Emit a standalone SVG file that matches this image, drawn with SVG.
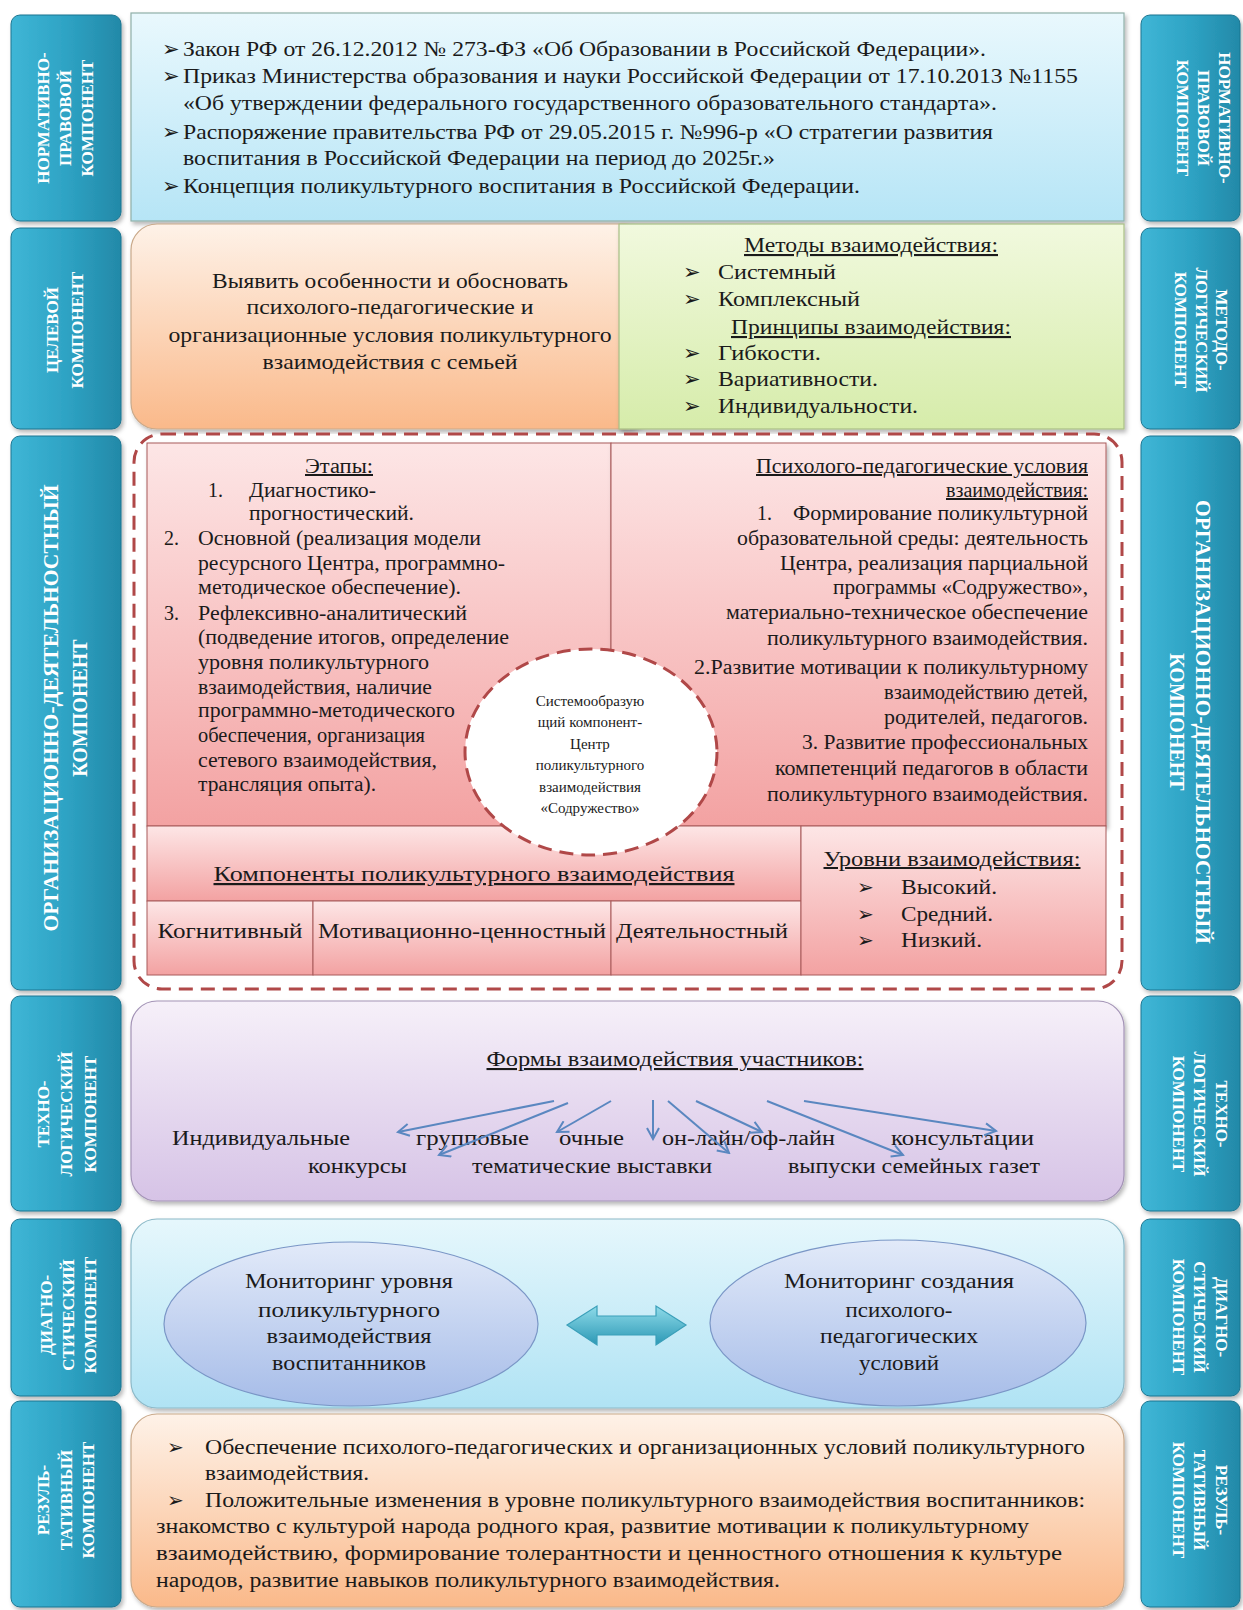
<svg xmlns="http://www.w3.org/2000/svg" width="1243" height="1610" viewBox="0 0 1243 1610">
<defs>
<style>
.t{font-family:"Liberation Serif","Times New Roman",serif;font-size:21px;fill:#1a1a1a}
.s{font-size:20px}
.c{font-size:15px}
.m{text-anchor:middle}
.e{text-anchor:end}
.u{text-decoration:underline}
.tab{font-family:"Liberation Serif","Times New Roman",serif;font-weight:bold;font-size:17px;fill:#ffffff;text-anchor:middle;dominant-baseline:central}
.tabbox{fill:url(#gTab);stroke:#1d7590;stroke-width:1}
.pink{fill:url(#gPink);stroke:#a85a5a;stroke-width:1}
.arr{stroke:#5a87c0;stroke-width:2;fill:none;marker-end:url(#mA)}
</style>
<linearGradient id="gTab" x1="0" y1="0" x2="1" y2="0">
<stop offset="0" stop-color="#3fb6d6"/><stop offset="0.5" stop-color="#2ea3c4"/><stop offset="1" stop-color="#2389a8"/>
</linearGradient>
<linearGradient id="gBlue" x1="0" y1="0" x2="0" y2="1">
<stop offset="0" stop-color="#e9f8fd"/><stop offset="1" stop-color="#b6e5f6"/>
</linearGradient>
<linearGradient id="gOrange" x1="0" y1="0" x2="0" y2="1">
<stop offset="0" stop-color="#fef2e8"/><stop offset="1" stop-color="#fab98a"/>
</linearGradient>
<linearGradient id="gGreen" x1="0" y1="0" x2="0" y2="1">
<stop offset="0" stop-color="#f1f9de"/><stop offset="1" stop-color="#d6ecaa"/>
</linearGradient>
<linearGradient id="gPink" x1="0" y1="0" x2="0" y2="1">
<stop offset="0" stop-color="#fde6e6"/><stop offset="1" stop-color="#f3a2a2"/>
</linearGradient>
<linearGradient id="gPurple" x1="0" y1="0" x2="0" y2="1">
<stop offset="0" stop-color="#f6f0f9"/><stop offset="1" stop-color="#d6c3e6"/>
</linearGradient>
<linearGradient id="gDiag" x1="0" y1="0" x2="0" y2="1">
<stop offset="0" stop-color="#e6f7fc"/><stop offset="1" stop-color="#b0e3f4"/>
</linearGradient>
<linearGradient id="gEll" x1="0" y1="0" x2="0" y2="1">
<stop offset="0" stop-color="#e2eaf9"/><stop offset="1" stop-color="#a6bce8"/>
</linearGradient>
<linearGradient id="gDA" x1="0" y1="0" x2="0" y2="1">
<stop offset="0" stop-color="#8fdbe9"/><stop offset="1" stop-color="#2b98b5"/>
</linearGradient>
<filter id="sh" x="-5%" y="-5%" width="110%" height="115%">
<feDropShadow dx="2" dy="3" stdDeviation="2" flood-color="#000" flood-opacity="0.28"/>
</filter>
<marker id="mA" markerUnits="userSpaceOnUse" markerWidth="14" markerHeight="14" viewBox="0 0 14 14" refX="12" refY="7" orient="auto">
<path d="M1,1 L12,7 L1,13" fill="none" stroke="#5a87c0" stroke-width="2"/>
</marker>
</defs>
<rect width="1243" height="1610" fill="#ffffff"/>

<!-- Left tabs -->
<g id="tabL1"><rect class="tabbox" x="11" y="15" width="110" height="206" rx="9" filter="url(#sh)"/>
<text class="tab" transform="translate(43,118) rotate(-90)">НОРМАТИВНО-</text>
<text class="tab" transform="translate(65,118) rotate(-90)">ПРАВОВОЙ</text>
<text class="tab" transform="translate(87,118) rotate(-90)">КОМПОНЕНТ</text></g>
<g id="tabL2"><rect class="tabbox" x="11" y="228" width="110" height="201" rx="9" filter="url(#sh)"/>
<text class="tab" transform="translate(52,330) rotate(-90)">ЦЕЛЕВОЙ</text>
<text class="tab" transform="translate(77,330) rotate(-90)">КОМПОНЕНТ</text></g>
<g id="tabL3"><rect class="tabbox" x="11" y="436" width="110" height="554" rx="9" filter="url(#sh)"/>
<text class="tab" style="font-size:20px" transform="translate(51,708) rotate(-90)" textLength="447" lengthAdjust="spacingAndGlyphs">ОРГАНИЗАЦИОННО-ДЕЯТЕЛЬНОСТНЫЙ</text>
<text class="tab" style="font-size:20px" transform="translate(80,708) rotate(-90)">КОМПОНЕНТ</text></g>
<g id="tabL4"><rect class="tabbox" x="11" y="996" width="110" height="215" rx="9" filter="url(#sh)"/>
<text class="tab" transform="translate(43,1114) rotate(-90)">ТЕХНО-</text>
<text class="tab" transform="translate(66,1114) rotate(-90)">ЛОГИЧЕСКИЙ</text>
<text class="tab" transform="translate(90,1114) rotate(-90)">КОМПОНЕНТ</text></g>
<g id="tabL5"><rect class="tabbox" x="11" y="1219" width="110" height="177" rx="9" filter="url(#sh)"/>
<text class="tab" transform="translate(46,1315) rotate(-90)">ДИАГНО-</text>
<text class="tab" transform="translate(68,1315) rotate(-90)">СТИЧЕСКИЙ</text>
<text class="tab" transform="translate(90,1315) rotate(-90)">КОМПОНЕНТ</text></g>
<g id="tabL6"><rect class="tabbox" x="11" y="1401" width="110" height="206" rx="9" filter="url(#sh)"/>
<text class="tab" transform="translate(43,1500) rotate(-90)">РЕЗУЛЬ-</text>
<text class="tab" transform="translate(66,1500) rotate(-90)">ТАТИВНЫЙ</text>
<text class="tab" transform="translate(88,1500) rotate(-90)">КОМПОНЕНТ</text></g>

<!-- Right tabs -->
<g id="tabR1"><rect class="tabbox" x="1141" y="15" width="99" height="206" rx="9" filter="url(#sh)"/>
<text class="tab" transform="translate(1224,118) rotate(90)">НОРМАТИВНО-</text>
<text class="tab" transform="translate(1203,118) rotate(90)">ПРАВОВОЙ</text>
<text class="tab" transform="translate(1182,118) rotate(90)">КОМПОНЕНТ</text></g>
<g id="tabR2"><rect class="tabbox" x="1141" y="228" width="99" height="201" rx="9" filter="url(#sh)"/>
<text class="tab" transform="translate(1221,330) rotate(90)">МЕТОДО-</text>
<text class="tab" transform="translate(1201,330) rotate(90)">ЛОГИЧЕСКИЙ</text>
<text class="tab" transform="translate(1180,330) rotate(90)">КОМПОНЕНТ</text></g>
<g id="tabR3"><rect class="tabbox" x="1141" y="436" width="99" height="554" rx="9" filter="url(#sh)"/>
<text class="tab" style="font-size:20px" transform="translate(1203,722) rotate(90)" textLength="444" lengthAdjust="spacingAndGlyphs">ОРГАНИЗАЦИОННО-ДЕЯТЕЛЬНОСТНЫЙ</text>
<text class="tab" style="font-size:20px" transform="translate(1177,722) rotate(90)">КОМПОНЕНТ</text></g>
<g id="tabR4"><rect class="tabbox" x="1141" y="996" width="99" height="215" rx="9" filter="url(#sh)"/>
<text class="tab" transform="translate(1221,1114) rotate(90)">ТЕХНО-</text>
<text class="tab" transform="translate(1199,1114) rotate(90)">ЛОГИЧЕСКИЙ</text>
<text class="tab" transform="translate(1178,1114) rotate(90)">КОМПОНЕНТ</text></g>
<g id="tabR5"><rect class="tabbox" x="1141" y="1219" width="99" height="177" rx="9" filter="url(#sh)"/>
<text class="tab" transform="translate(1221,1317) rotate(90)">ДИАГНО-</text>
<text class="tab" transform="translate(1199,1317) rotate(90)">СТИЧЕСКИЙ</text>
<text class="tab" transform="translate(1178,1317) rotate(90)">КОМПОНЕНТ</text></g>
<g id="tabR6"><rect class="tabbox" x="1141" y="1401" width="99" height="206" rx="9" filter="url(#sh)"/>
<text class="tab" transform="translate(1221,1500) rotate(90)">РЕЗУЛЬ-</text>
<text class="tab" transform="translate(1199,1500) rotate(90)">ТАТИВНЫЙ</text>
<text class="tab" transform="translate(1178,1500) rotate(90)">КОМПОНЕНТ</text></g>

<!-- Normative box -->
<g id="normative">
<rect x="131" y="13" width="993" height="208" fill="url(#gBlue)" stroke="#8fb0a8" stroke-width="1.2" filter="url(#sh)"/>
<text class="t" x="162" y="56">➢</text><text class="t" x="183" y="56" textLength="803" lengthAdjust="spacingAndGlyphs">Закон РФ от 26.12.2012 № 273-ФЗ «Об Образовании в Российской Федерации».</text>
<text class="t" x="162" y="83">➢</text><text class="t" x="183" y="83" textLength="895" lengthAdjust="spacingAndGlyphs">Приказ Министерства образования и науки Российской Федерации от 17.10.2013 №1155</text>
<text class="t" x="183" y="110" textLength="814" lengthAdjust="spacingAndGlyphs">«Об утверждении федерального государственного образовательного стандарта».</text>
<text class="t" x="162" y="139">➢</text><text class="t" x="183" y="139" textLength="810" lengthAdjust="spacingAndGlyphs">Распоряжение правительства РФ от 29.05.2015 г. №996-р «О стратегии развития</text>
<text class="t" x="183" y="165" textLength="592" lengthAdjust="spacingAndGlyphs">воспитания в Российской Федерации на период до 2025г.»</text>
<text class="t" x="162" y="193">➢</text><text class="t" x="183" y="193" textLength="677" lengthAdjust="spacingAndGlyphs">Концепция поликультурного воспитания в Российской Федерации.</text>
</g>

<!-- Goal box -->
<g id="goal">
<rect x="131" y="224" width="520" height="205" rx="26" fill="url(#gOrange)" stroke="#c9a98a" stroke-width="1.2" filter="url(#sh)"/>
<text class="t m" x="390" y="288" textLength="356" lengthAdjust="spacingAndGlyphs">Выявить особенности и обосновать</text>
<text class="t m" x="390" y="314" textLength="287" lengthAdjust="spacingAndGlyphs">психолого-педагогические и</text>
<text class="t m" x="390" y="342" textLength="443" lengthAdjust="spacingAndGlyphs">организационные условия поликультурного</text>
<text class="t m" x="390" y="369" textLength="255" lengthAdjust="spacingAndGlyphs">взаимодействия с семьей</text>
</g>

<!-- Methods box -->
<g id="methods">
<rect x="619" y="224" width="505" height="205" fill="url(#gGreen)" stroke="#a9bf86" stroke-width="1.2" filter="url(#sh)"/>
<text class="t m u" x="871" y="252" textLength="254" lengthAdjust="spacingAndGlyphs">Методы взаимодействия:</text>
<text class="t" x="683" y="279">➢</text><text class="t" x="718" y="279" textLength="118" lengthAdjust="spacingAndGlyphs">Системный</text>
<text class="t" x="683" y="306">➢</text><text class="t" x="718" y="306" textLength="142" lengthAdjust="spacingAndGlyphs">Комплексный</text>
<text class="t m u" x="871" y="334" textLength="280" lengthAdjust="spacingAndGlyphs">Принципы взаимодействия:</text>
<text class="t" x="683" y="360">➢</text><text class="t" x="718" y="360" textLength="103" lengthAdjust="spacingAndGlyphs">Гибкости.</text>
<text class="t" x="683" y="386">➢</text><text class="t" x="718" y="386" textLength="160" lengthAdjust="spacingAndGlyphs">Вариативности.</text>
<text class="t" x="683" y="413">➢</text><text class="t" x="718" y="413" textLength="200" lengthAdjust="spacingAndGlyphs">Индивидуальности.</text>
</g>

<!-- Organizational container -->
<g id="organization">
<rect x="134" y="434" width="988" height="555" rx="28" fill="#ffffff" stroke="#b04848" stroke-width="3" stroke-dasharray="14 8"/>
</g>

<g id="stages">
<rect class="pink" x="147" y="443" width="464" height="383" filter="url(#sh)"/>
<text class="t s m u" x="339" y="473" textLength="68" lengthAdjust="spacingAndGlyphs">Этапы:</text>
<text class="t s" x="208" y="497">1.</text><text class="t s" x="249" y="497" textLength="127" lengthAdjust="spacingAndGlyphs">Диагностико-</text>
<text class="t s" x="249" y="520" textLength="165" lengthAdjust="spacingAndGlyphs">прогностический.</text>
<text class="t s" x="164" y="545">2.</text><text class="t s" x="198" y="545" textLength="283" lengthAdjust="spacingAndGlyphs">Основной (реализация модели</text>
<text class="t s" x="198" y="570" textLength="307" lengthAdjust="spacingAndGlyphs">ресурсного Центра, программно-</text>
<text class="t s" x="198" y="594" textLength="263" lengthAdjust="spacingAndGlyphs">методическое обеспечение).</text>
<text class="t s" x="164" y="620">3.</text><text class="t s" x="198" y="620" textLength="269" lengthAdjust="spacingAndGlyphs">Рефлексивно-аналитический</text>
<text class="t s" x="198" y="644" textLength="311" lengthAdjust="spacingAndGlyphs">(подведение итогов, определение</text>
<text class="t s" x="198" y="669" textLength="231" lengthAdjust="spacingAndGlyphs">уровня поликультурного</text>
<text class="t s" x="198" y="694" textLength="234" lengthAdjust="spacingAndGlyphs">взаимодействия, наличие</text>
<text class="t s" x="198" y="717" textLength="257" lengthAdjust="spacingAndGlyphs">программно-методического</text>
<text class="t s" x="198" y="742" textLength="227" lengthAdjust="spacingAndGlyphs">обеспечения, организация</text>
<text class="t s" x="198" y="767" textLength="239" lengthAdjust="spacingAndGlyphs">сетевого взаимодействия,</text>
<text class="t s" x="198" y="791" textLength="178" lengthAdjust="spacingAndGlyphs">трансляция опыта).</text>
</g>

<g id="conditions">
<rect class="pink" x="611" y="443" width="495" height="383" filter="url(#sh)"/>
<text class="t s e u" x="1088" y="473" textLength="332" lengthAdjust="spacingAndGlyphs">Психолого-педагогические условия</text>
<text class="t s e u" x="1088" y="497" textLength="142" lengthAdjust="spacingAndGlyphs">взаимодействия:</text>
<text class="t s" x="757" y="520">1.</text><text class="t s e" x="1088" y="520" textLength="295" lengthAdjust="spacingAndGlyphs">Формирование поликультурной</text>
<text class="t s e" x="1088" y="545" textLength="351" lengthAdjust="spacingAndGlyphs">образовательной среды: деятельность</text>
<text class="t s e" x="1088" y="570" textLength="308" lengthAdjust="spacingAndGlyphs">Центра, реализация парциальной</text>
<text class="t s e" x="1088" y="594" textLength="255" lengthAdjust="spacingAndGlyphs">программы «Содружество»,</text>
<text class="t s e" x="1088" y="619" textLength="362" lengthAdjust="spacingAndGlyphs">материально-техническое обеспечение</text>
<text class="t s e" x="1088" y="645" textLength="321" lengthAdjust="spacingAndGlyphs">поликультурного взаимодействия.</text>
<text class="t s e" x="1088" y="674" textLength="394" lengthAdjust="spacingAndGlyphs">2.Развитие мотивации к поликультурному</text>
<text class="t s e" x="1088" y="699" textLength="204" lengthAdjust="spacingAndGlyphs">взаимодействию детей,</text>
<text class="t s e" x="1088" y="724" textLength="204" lengthAdjust="spacingAndGlyphs">родителей, педагогов.</text>
<text class="t s e" x="1088" y="749" textLength="286" lengthAdjust="spacingAndGlyphs">3. Развитие профессиональных</text>
<text class="t s e" x="1088" y="775" textLength="313" lengthAdjust="spacingAndGlyphs">компетенций педагогов в области</text>
<text class="t s e" x="1088" y="801" textLength="321" lengthAdjust="spacingAndGlyphs">поликультурного взаимодействия.</text>
</g>

<g id="components">
<rect class="pink" x="147" y="826" width="654" height="75"/>
<text class="t m u" style="font-size:22px" x="474" y="881" textLength="521" lengthAdjust="spacingAndGlyphs">Компоненты поликультурного взаимодействия</text>
<rect class="pink" x="147" y="901" width="166" height="74"/>
<rect class="pink" x="313" y="901" width="298" height="74"/>
<rect class="pink" x="611" y="901" width="190" height="74"/>
<text class="t s m" x="230" y="938" textLength="145" lengthAdjust="spacingAndGlyphs">Когнитивный</text>
<text class="t s m" x="462" y="938" textLength="288" lengthAdjust="spacingAndGlyphs">Мотивационно-ценностный</text>
<text class="t s m" x="702" y="938" textLength="172" lengthAdjust="spacingAndGlyphs">Деятельностный</text>
</g>

<g id="levels">
<rect class="pink" x="801" y="826" width="305" height="149"/>
<text class="t s m u" x="952" y="866" textLength="257" lengthAdjust="spacingAndGlyphs">Уровни взаимодействия:</text>
<text class="t s" x="857" y="894">➢</text><text class="t s" x="901" y="894" textLength="96" lengthAdjust="spacingAndGlyphs">Высокий.</text>
<text class="t s" x="857" y="921">➢</text><text class="t s" x="901" y="921" textLength="92" lengthAdjust="spacingAndGlyphs">Средний.</text>
<text class="t s" x="857" y="947">➢</text><text class="t s" x="901" y="947" textLength="81" lengthAdjust="spacingAndGlyphs">Низкий.</text>
</g>

<g id="center">
<ellipse cx="591" cy="752" rx="126" ry="103" fill="#ffffff" stroke="#b04848" stroke-width="3" stroke-dasharray="14 8"/>
<text class="t c m" x="590" y="706">Системообразую</text>
<text class="t c m" x="590" y="727">щий компонент-</text>
<text class="t c m" x="590" y="749">Центр</text>
<text class="t c m" x="590" y="770">поликультурного</text>
<text class="t c m" x="590" y="792">взаимодействия</text>
<text class="t c m" x="590" y="813">«Содружество»</text>
</g>

<!-- Technological -->
<g id="forms">
<rect x="131" y="1001" width="993" height="200" rx="26" fill="url(#gPurple)" stroke="#a393b6" stroke-width="1.2" filter="url(#sh)"/>
<text class="t m u" x="675" y="1066" textLength="377" lengthAdjust="spacingAndGlyphs">Формы взаимодействия участников:</text>
<text class="t s" x="172" y="1145" textLength="178" lengthAdjust="spacingAndGlyphs">Индивидуальные</text>
<text class="t s" x="416" y="1145" textLength="113" lengthAdjust="spacingAndGlyphs">групповые</text>
<text class="t s" x="559" y="1145" textLength="65" lengthAdjust="spacingAndGlyphs">очные</text>
<text class="t s" x="662" y="1145" textLength="173" lengthAdjust="spacingAndGlyphs">он-лайн/оф-лайн</text>
<text class="t s" x="891" y="1145" textLength="143" lengthAdjust="spacingAndGlyphs">консультации</text>
<text class="t s" x="308" y="1173" textLength="99" lengthAdjust="spacingAndGlyphs">конкурсы</text>
<text class="t s" x="472" y="1173" textLength="240" lengthAdjust="spacingAndGlyphs">тематические выставки</text>
<text class="t s" x="788" y="1173" textLength="252" lengthAdjust="spacingAndGlyphs">выпуски семейных газет</text>
</g>

<!-- Diagnostic -->
<g id="diagnostic">
<rect x="131" y="1219" width="993" height="189" rx="26" fill="url(#gDiag)" stroke="#8cb9c8" stroke-width="1.2" filter="url(#sh)"/>
</g>
<g id="monitorLeft">
<ellipse cx="351" cy="1324" rx="187" ry="82" fill="url(#gEll)" stroke="#7a96c6" stroke-width="1.2"/>
<text class="t m" x="349" y="1288" textLength="208" lengthAdjust="spacingAndGlyphs">Мониторинг уровня</text>
<text class="t m" x="349" y="1317" textLength="182" lengthAdjust="spacingAndGlyphs">поликультурного</text>
<text class="t m" x="349" y="1343" textLength="165" lengthAdjust="spacingAndGlyphs">взаимодействия</text>
<text class="t m" x="349" y="1370" textLength="154" lengthAdjust="spacingAndGlyphs">воспитанников</text>
</g>
<g id="monitorRight">
<ellipse cx="898" cy="1323" rx="188" ry="83" fill="url(#gEll)" stroke="#7a96c6" stroke-width="1.2"/>
<text class="t m" x="899" y="1288" textLength="230" lengthAdjust="spacingAndGlyphs">Мониторинг создания</text>
<text class="t m" x="899" y="1317" textLength="107" lengthAdjust="spacingAndGlyphs">психолого-</text>
<text class="t m" x="899" y="1343" textLength="158" lengthAdjust="spacingAndGlyphs">педагогических</text>
<text class="t m" x="899" y="1370" textLength="80" lengthAdjust="spacingAndGlyphs">условий</text>
</g>

<!-- Result -->
<g id="result">
<rect x="131" y="1414" width="993" height="193" rx="26" fill="url(#gOrange)" stroke="#c9a98a" stroke-width="1.2" filter="url(#sh)"/>
<text class="t s" x="167" y="1454">➢</text><text class="t s" x="205" y="1454" textLength="880" lengthAdjust="spacingAndGlyphs">Обеспечение психолого-педагогических и организационных условий поликультурного</text>
<text class="t s" x="205" y="1480" textLength="164" lengthAdjust="spacingAndGlyphs">взаимодействия.</text>
<text class="t s" x="167" y="1507">➢</text><text class="t s" x="205" y="1507" textLength="880" lengthAdjust="spacingAndGlyphs">Положительные изменения в уровне поликультурного взаимодействия воспитанников:</text>
<text class="t s" x="156" y="1533" textLength="873" lengthAdjust="spacingAndGlyphs">знакомство с культурой народа родного края, развитие мотивации к поликультурному</text>
<text class="t s" x="156" y="1560" textLength="906" lengthAdjust="spacingAndGlyphs">взаимодействию, формирование толерантности и ценностного отношения к культуре</text>
<text class="t s" x="156" y="1587" textLength="624" lengthAdjust="spacingAndGlyphs">народов, развитие навыков поликультурного взаимодействия.</text>
</g>

<!-- Connectors -->
<g id="connectors">
<line class="arr" x1="554" y1="1101" x2="398" y2="1132"/>
<line class="arr" x1="568" y1="1103" x2="439" y2="1155"/>
<line class="arr" x1="611" y1="1101" x2="557" y2="1132"/>
<line class="arr" x1="653" y1="1100" x2="653" y2="1139"/>
<line class="arr" x1="668" y1="1101" x2="729" y2="1153"/>
<line class="arr" x1="696" y1="1101" x2="762" y2="1132"/>
<line class="arr" x1="767" y1="1101" x2="903" y2="1155"/>
<line class="arr" x1="804" y1="1101" x2="996" y2="1131"/>
<path d="M567,1325 L597,1306 L597,1316 L656,1316 L656,1306 L686,1325 L656,1345 L656,1335 L597,1335 L597,1345 Z" fill="url(#gDA)" stroke="#3a9fb9" stroke-width="1.2"/>
</g>
</svg>
